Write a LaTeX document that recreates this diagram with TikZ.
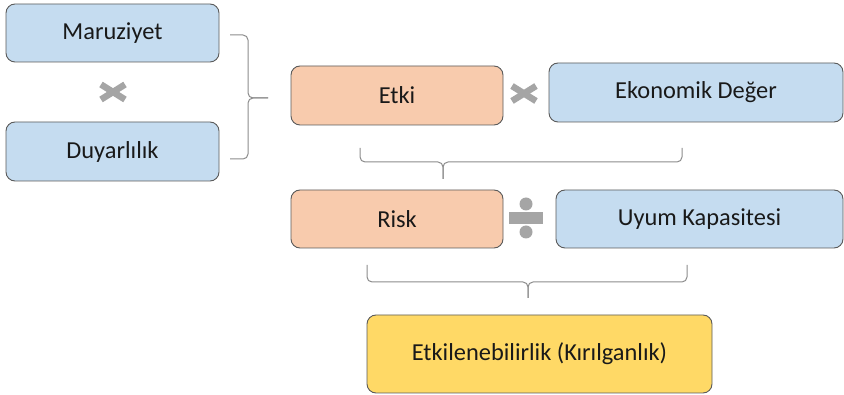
\documentclass[tikz,border=0pt]{standalone}
\usepackage{fontspec}
\setmainfont{Carlito}
\usepackage{tikz}
\definecolor{kutumavi}{HTML}{C5DCF0}
\definecolor{kututuruncu}{HTML}{F8CBAD}
\definecolor{kutusari}{HTML}{FFD966}
\definecolor{kenar}{HTML}{5A5A5A}
\definecolor{isaret}{HTML}{A5A5A5}
\definecolor{parantez}{HTML}{8C8C8C}
\tikzset{
    kutu/.style={draw=kenar, line width=0.9pt, rounded corners=9pt, align=center,
        font=\fontsize{24.4}{28}\selectfont, text=black!90},
    carpi/.style={draw=isaret, line width=6.5pt},
    parantezcizgi/.style={draw=parantez, line width=1pt, rounded corners=5pt}
}

\begin{document}
\begin{tikzpicture}[x=1pt, y=-1pt]

    \useasboundingbox (0,0) rectangle (844,395);

    \node[kutu, fill=kutumavi, minimum width=213pt, minimum height=58pt] (maruz) at (112.5,33) {Maruziyet};
    \node[kutu, fill=kutumavi, minimum width=213pt, minimum height=59pt] (duyar) at (112.5,151.5) {Duyarlılık};

    \node[kutu, fill=kututuruncu, minimum width=212pt, minimum height=59pt] (etki) at (397,95.5) {Etki};
    \node[kutu, fill=kutumavi, minimum width=294pt, minimum height=59pt] (ekon) at (696,92.5) {Ekonomik Değer};

    \node[kutu, fill=kututuruncu, minimum width=212pt, minimum height=58pt] (risk) at (397,219) {Risk};
    \node[kutu, fill=kutumavi, minimum width=287pt, minimum height=58pt] (uyum) at (699.5,219) {Uyum Kapasitesi};

    \node[kutu, fill=kutusari, minimum width=345pt, minimum height=78pt] (etkil) at (539.5,354) {Etkilenebilirlik (Kırılganlık)};

    % carpma ve bolme isaretleri
    \coordinate (x1) at (113,92);
    \coordinate (x2) at (524,93.5);
    \coordinate (bol) at (526,218);

    \draw[carpi] ([shift={(-12,-7.5)}]x1) -- ([shift={(12,7.5)}]x1);
    \draw[carpi] ([shift={(-12,7.5)}]x1) -- ([shift={(12,-7.5)}]x1);
    \draw[carpi] ([shift={(-12,-7.5)}]x2) -- ([shift={(12,7.5)}]x2);
    \draw[carpi] ([shift={(-12,7.5)}]x2) -- ([shift={(12,-7.5)}]x2);

    \fill[isaret] ([shift={(-17,-6)}]bol) rectangle ([shift={(17,6)}]bol);
    \fill[isaret] ([shift={(0,-14)}]bol) circle (6.5);
    \fill[isaret] ([shift={(0,14)}]bol) circle (6.5);

    % parantezler
    \coordinate (p1) at (268,98);
    \coordinate (p2) at (443,179);
    \coordinate (p3) at (528,298);

    \draw[parantezcizgi] (230,35) -- (248,35) -- (248,98) -- (p1);
    \draw[parantezcizgi] (230,159) -- (248,159) -- (248,98) -- (p1);

    \draw[parantezcizgi] (360,148) -- (360,162) -- (443,162) -- (p2);
    \draw[parantezcizgi] (682,148) -- (682,162) -- (443,162) -- (p2);

    \draw[parantezcizgi] (367,265) -- (367,282) -- (528,282) -- (p3);
    \draw[parantezcizgi] (687,265) -- (687,282) -- (528,282) -- (p3);

\end{tikzpicture}
\end{document}
